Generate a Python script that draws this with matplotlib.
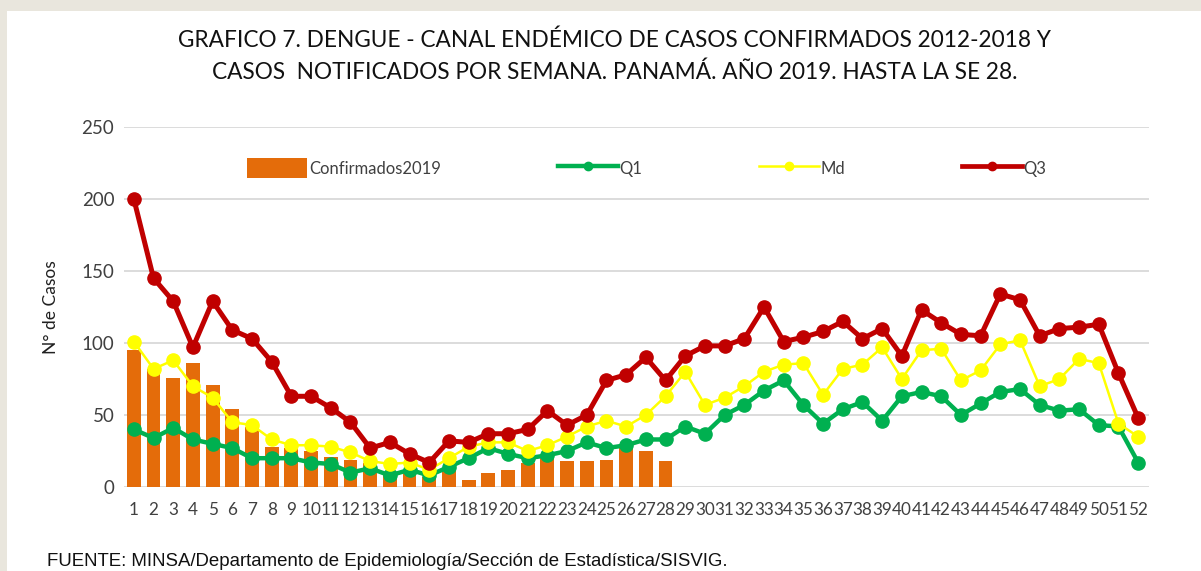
import matplotlib
matplotlib.use("Agg")
import matplotlib.pyplot as plt
from matplotlib.lines import Line2D
from matplotlib.patches import Rectangle, Patch

weeks = list(range(1, 53))
week_labels = [str(w) for w in weeks]

confirmados2019 = [95, 82, 76, 86, 71, 54, 42, 28, 27, 25, 21, 19, 17, 10,
                   12, 7, 12, 5, 10, 12, 17, 21, 18, 18, 19, 28, 25, 18]
q1 = [40, 34, 41, 33, 30, 27, 20, 20, 20, 17, 16, 10, 13, 8, 12, 8, 14, 20,
      27, 23, 20, 22, 25, 31, 27, 29, 33, 33, 42, 37, 50, 57, 67, 74, 57, 44,
      54, 59, 46, 63, 66, 63, 50, 58, 66, 68, 57, 53, 54, 43, 42, 17]
md = [101, 82, 88, 70, 62, 45, 43, 33, 29, 29, 28, 24, 18, 16, 17, 12, 20, 28,
      31, 31, 25, 29, 35, 42, 46, 42, 50, 63, 80, 57, 62, 70, 80, 85, 86, 64,
      82, 85, 97, 75, 95, 96, 74, 81, 99, 102, 70, 75, 89, 86, 44, 35]
q3 = [200, 145, 129, 97, 129, 109, 103, 87, 63, 63, 55, 45, 27, 31, 23, 17, 32,
      31, 37, 37, 40, 53, 43, 50, 74, 78, 90, 74, 91, 98, 98, 103, 125, 101,
      104, 108, 115, 103, 110, 91, 123, 114, 106, 105, 134, 130, 105, 110, 111,
      113, 79, 48]
y_ticks = [0, 50, 100, 150, 200, 250]

title_lines = ["GRAFICO 7. DENGUE - CANAL ENDÉMICO DE CASOS CONFIRMADOS 2012-2018 Y",
               "CASOS  NOTIFICADOS POR SEMANA. PANAMÁ. AÑO 2019. HASTA LA SE 28."]
source = "FUENTE: MINSA/Departamento de Epidemiología/Sección de Estadística/SISVIG."

FONT = ["Lato", "DejaVu Sans"]
plt.rcParams["font.family"] = FONT
TXT = "#404040"
ORANGE = "#E46C0A"
GREEN = "#00B050"
YELLOW = "#FFFF00"
RED = "#C00000"

W, H = 1201, 571
fig = plt.figure(figsize=(W / 100, H / 100), dpi=100, facecolor="#E9E6DD")
fig.patches.append(Rectangle((7 / W, 0), 1 - 7 / W, 1 - 11 / H,
                             transform=fig.transFigure, facecolor="white",
                             edgecolor="none", zorder=-10))

ax = fig.add_axes([124 / W, 1 - 487 / H, (1149 - 124) / W, (487 - 127) / H])
ax.set_facecolor("none")

ax.bar(weeks[:len(confirmados2019)], confirmados2019, width=0.7,
       color=ORANGE, zorder=2)
ax.plot(weeks, q1, color=GREEN, lw=3.2, marker="o", ms=9.5, zorder=3)
ax.plot(weeks, md, color=YELLOW, lw=1.8, marker="o", ms=9.5, zorder=4)
ax.plot(weeks, q3, color=RED, lw=3.6, marker="o", ms=9.5, zorder=5)

ax.set_xlim(0.5, 52.55)
ax.set_ylim(0, 250)
ax.set_yticks(y_ticks)
ax.set_xticks(weeks)
ax.set_xticklabels(week_labels)
ax.tick_params(axis="both", length=0, colors=TXT)
ax.tick_params(axis="x", labelsize=12.3, pad=11)
ax.tick_params(axis="y", labelsize=13.5, pad=7)
for s in ax.spines.values():
    s.set_visible(False)
ax.grid(axis="y", color="#D9D9D9", lw=1.3, zorder=1)
ax.set_axisbelow(True)
ax.set_ylabel("N° de Casos", fontsize=12.5, color="#202020", labelpad=16)

handles = [
    Patch(facecolor=ORANGE, edgecolor="none"),
    Line2D([], [], color=GREEN, lw=3.2, marker="o", ms=6),
    Line2D([], [], color=YELLOW, lw=1.8, marker="o", ms=6),
    Line2D([], [], color=RED, lw=3.4, marker="o", ms=6),
]
labels = ["Confirmados2019", "Q1", "Md", "Q3"]
ax.legend(handles, labels, ncol=4, loc="center", bbox_to_anchor=(0.51, 0.886),
          frameon=False, fontsize=12, handlelength=3.6, handleheight=1.5,
          handletextpad=0.1, columnspacing=7.0, labelcolor=TXT)

fig.text(615 / W, 1 - 40 / H, title_lines[0], ha="center", va="center",
         fontsize=16.3, color="#111111")
fig.text(615 / W, 1 - 72 / H, title_lines[1], ha="center", va="center",
         fontsize=16.3, color="#111111")
fig.text(47 / W, 1 - 562 / H, source, ha="left", va="center", fontsize=13.4,
         color="#111111", family=["Liberation Sans Narrow", "Liberation Sans", "DejaVu Sans"])

fig.savefig("out.png", dpi=100, facecolor=fig.get_facecolor())
